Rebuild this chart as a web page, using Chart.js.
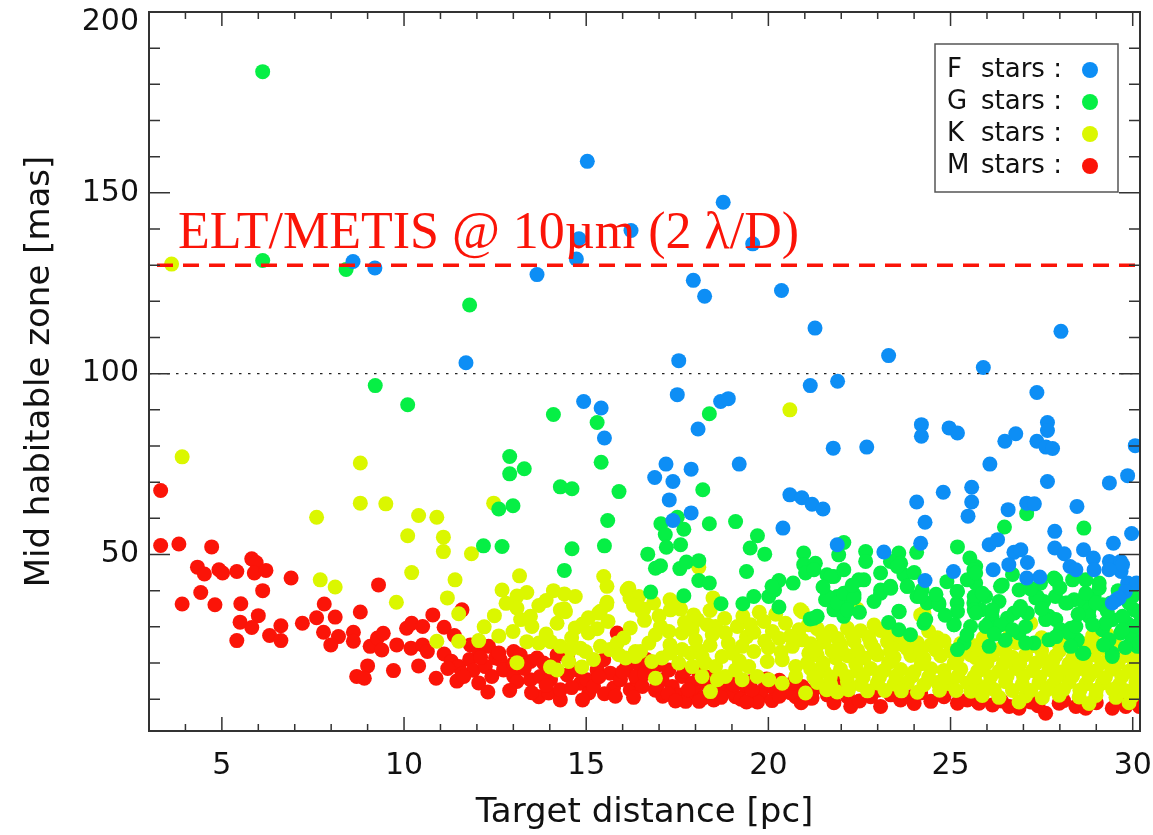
<!DOCTYPE html>
<html>
<head>
<meta charset="utf-8">
<script src="https://cdn.jsdelivr.net/npm/chart.js@4.4.1/dist/chart.umd.min.js"></script>
<style>
    html, body { margin: 0; padding: 0; background: #fff; }
    #chart { display: block; }
</style>
</head>
<body>
<canvas id="chart" width="1153" height="835"></canvas>
<script>
// distance [pc], mid habitable zone [mas]
const fStars = [
    [8.6,131],[9.2,129.2],[13.65,127.4],[11.7,103],[15.03,158.7],[18.76,147.4],[16.23,139.6],[14.8,137.3],
    [14.73,131.7],[19.57,135.9],[17.94,125.8],[18.25,121.4],[20.36,123],[21.28,112.6],[28.03,111.7],[17.54,103.6],
    [23.3,105],[25.9,101.7],[21.15,96.7],[21.9,97.9],[17.5,94.2],[14.93,92.3],[15.41,90.5],[15.5,82.2],
    [18.07,84.7],[18.69,92.3],[18.9,93.1],[17.19,75],[17.88,73.6],[16.88,71.3],[17.38,70.2],[17.28,65.1],
    [19.2,75],[17.88,61.5],[17.38,59.4],[20.4,57.3],[20.59,66.5],[20.92,65.7],[21.2,63.9],[21.5,62.6],
    [27.37,94.8],[24.2,85.9],[24.2,82.7],[24.96,85],[25.19,83.6],[27.66,86.5],[27.66,84.3],[26.49,81.3],
    [26.79,83.4],[27.37,81.3],[27.62,79.7],[27.8,79.3],[21.78,79.4],[22.7,79.7],[30.07,80.1],[26.08,75],
    [27.66,70.2],[29.36,69.8],[29.86,71.8],[24.07,64.5],[24.8,67.2],[25.58,68.6],[25.58,64.5],[25.48,60.6],
    [27.09,64.2],[27.3,64],[26.58,62.4],[28.47,63.3],[24.3,58.9],[27.86,56.4],[29.97,55.8],[24.18,53.1],
    [21.89,52.7],[26.06,52.7],[26.29,54.1],[29.47,53.1],[23.17,50.7],[26.74,50.6],[26.93,51.3],[26.6,47.2],
    [27.11,47.8],[27.86,51.8],[28.12,50.2],[28.65,51.3],[28.92,49],[28.94,45.8],[28.28,46.7],[28.44,45.8],
    [29.36,48.1],[29.67,48.1],[29.68,45.3],[29.86,42.1],[30.1,42.1],[29.8,39.8],[29.55,37.5],[25.08,45.3],
    [26.17,45.8],[24.3,42.8],[27.09,43.5],[27.45,43.8],[29.72,47.2],[29.35,45.8],[29.63,38],[29.44,36.6]
];

const gStars = [
    [6.12,183.5],[6.12,131.3],[8.41,128.8],[11.8,119],[9.21,96.7],[10.1,91.4],[14.1,88.7],[15.3,86.5],
    [18.38,88.9],[12.9,77.1],[12.9,72.3],[13.3,73.7],[15.41,75.5],[14.29,68.7],[14.61,68.2],[15.9,67.4],
    [18.2,67.9],[17.5,60.3],[17.05,58.5],[17.68,57],[17.17,55.5],[17.2,52],[17.59,52.7],[12.6,62.6],
    [12.99,63.5],[15.59,59.4],[18.38,58.5],[19.1,59.1],[19.7,55.2],[19.5,51.8],[19.9,50.1],[20.97,50.4],
    [20.97,47.2],[12.18,52.4],[12.69,52.2],[14.61,51.6],[15.5,52.4],[16.69,50.1],[16.9,46.2],[17.04,46.9],
    [14.4,45.6],[17.57,46.1],[17.75,47.9],[18.09,48.3],[18.09,42.8],[18.38,42.1],[19.4,45.3],[20.29,42.8],
    [20.68,42.1],[16.77,39.6],[17.68,38.6],[18.7,36.4],[19.3,36.4],[19.6,38.4],[20.01,38.4],[20.29,35.5],
    [20.17,40.2],[20.1,41.2],[21.15,32.2],
    [26.48,57.6],[28.66,57.3],[27.09,61.3],[22.07,53.3],[25.19,52.1],[25.53,49],[25.69,46.7],
    [21.29,47.6],[21.02,44.9],[21.61,44.4],[21.93,49.9],[22.07,45.8],[21.8,43.9],[22.67,50.8],[22.67,48.1],
    [23.08,44.9],[23.58,50.4],[23.35,48.1],[23.72,44.4],[23.63,47.6],[24.07,50.6],[23.81,41.2],[22.48,43],
    [21.57,37.5],[21.89,38.4],[22.16,36.6],[22.35,38.9],[21.8,34.7],[22.07,32.9],[21.25,32.4],[23.08,40.2],
    [23.35,41.2],[23.58,34.3],[23.58,29.2],[23.9,27.8],[24.08,38.4],[24.22,40.2],[24.36,36.6],[24.68,36.1],
    [24.27,31],[25.18,39.8],[25.18,36.6],[25.09,30.6],[25.64,45.8],[25.69,42.1],[25.64,36.6],[25.83,34.7],
    [25.96,38.4],[26.05,31],[26.14,32.9],[26.37,41.2],[26.33,37],[26.28,30.1],[26.56,32.4],[26.74,33.8],
    [26.88,28.3],[26.92,35.6],[27.11,33.8],[27.29,25.5],[27.38,38.4],[27.47,42.1],[27.56,37],[27.7,32.9],
    [27.89,32],[28.02,29.2],[28.21,36.6],[28.3,29.6],[28.48,26.4],[28.66,22.7],[28.39,37.5],[28.66,36.6],
    [28.8,34.7],[28.94,38.4],[29.17,36.1],[29.4,36.6],[29.44,32],[29.67,28.3],[29.85,31],[30.04,34.7],
    [29.95,25.5],[30.13,24.6],[29.44,22.7],[29.17,29.2],[28.71,43],[29.08,40.7],[27.84,43.5],[27.88,38.4],
    [21.25,45.8],[21.71,43.9],[21.62,38.4],[21.89,36.6],[22.07,39.3],[22.35,38],[22.62,43],[21.34,32.9],
    [22.17,34.7],[23.08,39.3],[23.36,40.7],[23.54,46.7],[23.82,41.2],[23.59,34.2],[24.18,38.4],[24.32,32],
    [24.68,36.6],[25.19,39.8],[25.19,34.2],[25.1,30.6],[25.46,43],[25.65,38.4],[25.65,34.7],[25.55,30.1],
    [25.37,25.5],[25.19,23.7],
    [25.69,44.9],[25.87,39.3],[25.69,33.8],[25.96,30.1],[26.15,34.7],[26.06,24.6],[26.42,41.6],[26.38,30.6],
    [26.88,40.2],[26.88,34.7],[26.7,29.2],[27.06,30.1],[27.06,25.5],[27.34,38],[27.61,32],[27.7,26.4],
    [27.89,43],[28.16,36.6],[28.25,28.3],[28.44,30.1],[28.35,43],[28.71,39.3],[28.8,32.9],[28.62,22.7],
    [28.99,36.6],[29.08,42.1],[29.26,31],[29.35,26.4],[29.44,21.8],[29.72,32.9],[29.9,36.6],[29.99,27.3],
    [30.18,33.8],[30.18,25.5],[29.72,29.2],
    [26.7,44.5],[27.2,40.5],[27.5,35],[28,40.8],[28.5,33.5],[28.9,30.6],[29.3,34.3],[29.6,40],
    [30,38.5],[30.1,30.2],[29.8,24.3],[29.2,25],[28.3,24.6],[27.9,27.3],[26.5,26.3],[26.2,28],
    [25.45,27.8],[24.85,33.2],[24.6,39],[24,45],[22.9,37],[22.5,34],[23.3,31.2],[21.5,41],
    [22.3,41.5],[24.9,42.5]
];

const kStars = [
    [3.62,130.3],[3.91,77],[8.8,75.3],[8.8,64.2],[9.5,64],[7.6,60.3],[10.4,60.8],[10.9,60.3],
    [10.1,55.2],[11.08,54.8],[11.08,50.8],[11.85,50.2],[7.7,43],[8.11,41],[10.21,45],[11.4,43],
    [11.19,38],[9.79,36.8],[11.5,33.6],[10.9,26],[11.5,26],[12.05,26.2],[20.59,90],[12.46,64.2],
    [13.17,44.1],[15.48,43.9],[15.57,41.2],[12.69,40.2],[13.37,39.5],[13.1,38.5],[14.1,40],[14.4,39.1],
    [14.7,38.4],[16.17,40.7],[16.2,38],[13.7,35.9],[13.1,35.2],[14.4,35],[15.57,36.8],[15.39,34.3],
    [15.06,32.5],[12.48,33.1],[16.58,34.9],[17.3,37.5],[17.59,34.9],[18.48,38],[18.09,46.5],[20.88,34.7],
    [22.44,34.9],[24.18,33.3],[27.2,31],[24.27,33.8],
    [14.29,34.7],[14.43,34.2],[13.47,32.9],[13.51,30.1],[14.2,31],[14.7,29.7],[15.34,33.8],[15.56,36.1],
    [15.06,28.3],[12.99,28.7],[13.37,25.9],[13.7,25.5],[14.02,25.9],[14.29,24.6],[14.57,23.7],[14.84,24.1],
    [14.98,23.2],[15.39,24.6],[15.65,23.7],[15.85,25.5],[16.21,29.7],[16.03,26.9],[16.08,21.4],[16.35,23.2],
    [13.1,20.1],[14.02,18.9],[14.2,18.1],[14.52,20.4],[14.88,18.9],[16.12,40.2],
    [16.44,38.4],[16.54,34.2],[16.85,36.6],[17.31,34.7],[17.54,35.6],[17.95,33.3],[18.05,32],[18.32,30.6],
    [18.55,30.1],[18.82,28.3],[18.46,27.8],[17.04,30.1],[17.27,28.7],[17.63,28.3],[17.91,29.2],[16.72,25.5],
    [16.49,23.2],[17.08,21.4],[17.63,23.7],[17.86,22.7],[18.05,23.7],[18.18,21.8],[17.54,20],[17.91,19],
    [18.27,20],[18.55,19],[18.73,21.8],[19.01,22.7],[19.28,24.6],[19.15,30.1],[19.51,30.6],[19.88,31.5],
    [20.11,28.7],[20.47,31],[20.84,29.2],[20.66,24.6],[20.93,26.4],[21.11,22.7],[19.6,23.2],[19.97,20.4],
    [20.38,20.9],[20.75,19],[21.07,20],[19.46,19],[19.1,18.1],[18.82,16.3],[19.28,15.4],[19.69,16.3],
    [20.01,15.4],[20.38,14.4],[20.75,16.3],[21.02,11.7],[16.9,15.8],[18.41,12.1],[18.18,16.3],[18.6,15.4],
    [20.93,34.2],[16.35,21.8],[18.9,25.5],[19.4,27.2],[19.9,26],[20.3,26.8],[18,26.3],[17.3,25],
    [16.9,27.8],[19.75,34],[20.2,33.5],[20.6,27.4],
    [13.9,28],[14.6,27],[15.3,29.5],[15.6,31.5],[16.6,31.8],[16.3,36],[17,33],[17.7,31.2],
    [18.4,34.5],[18.8,32.3],[19.3,33],[19.6,28.5],[20,24.2],[20.35,23],[19.2,20.6],[18.4,24.9],
    [16.8,20.4],[17.3,22.8],[15.9,22.3],[15.2,21],[14.9,30.8],[13.2,32],[13.9,37.3],[12.8,36.5],
    [12.2,30],[12.6,27.5],
    [21.34,29.5],[21.71,28.8],[22.17,29.6],[22.53,28.9],[23.08,29],[24.64,27],[21.9,26.8],[21.1,30.6],
    [23.4,28.3],[24.4,28.8],[22.9,30.5],
    [21.16,25.3],[21.53,25.8],[21.98,25.2],[22.35,26],[22.81,25.4],[23.27,25.9],[23.63,25.2],[24.09,25.6],
    [24.46,25],[24.82,26.1],[25.28,25.4],[25.65,24.8],
    [21.34,22.2],[21.85,21.4],[22.17,22],[22.63,21.4],[22.99,22.3],[23.45,21.6],[23.91,22.1],[24.27,21.3],
    [24.73,22],[25.19,21.5],[25.56,22.2],
    [21.16,18.4],[21.53,17.8],[21.98,18.3],[22.44,17.7],[22.81,18.5],[23.17,17.9],[23.63,18.2],[24,17.6],
    [24.46,18.4],[24.82,17.9],[25.28,18.3],[25.74,17.7],
    [21.34,14.6],[21.71,14.1],[22.17,14.8],[22.53,14],[22.99,14.5],[23.45,14.2],[23.82,14.7],[24.27,14],
    [24.64,14.6],[25,14.2],[25.46,14.5],
    [21.89,12],[22.72,12.3],[24.09,11.9],[25.56,12.2],
    [21.7,16.2],[22.6,16],[23.5,16.4],[24.4,16.1],[25.2,16.3],[21.5,20],[22.4,19.7],[23.3,20.1],
    [24.2,19.8],[25.1,20],[21.6,12.6],[23.2,12.4],[24.7,12.5],[22,23.8],[22.9,23.9],[23.8,24],
    [24.6,23.6],[25.4,23.5],
    [25.78,24.9],[26.42,24.3],[26.8,25.6],[27.25,24.8],[27.98,25.1],[28.35,24],[28.71,25.3],[29.12,24.2],
    [29.54,24.9],[30.09,24.4],
    [25.69,21.5],[26.15,22.2],[26.7,21.6],[27.06,22.3],[27.52,21.4],[27.89,22],[28.35,21.3],[28.9,22.2],
    [29.35,21.6],[29.81,22.1],[30.18,21.4],
    [25.87,18.3],[26.33,17.7],[26.79,18.5],[27.25,17.9],[27.7,18.2],[28.07,17.6],[28.53,18.4],[28.99,17.8],
    [29.44,18.3],[29.9,17.7],
    [25.69,14.6],[26.06,14.1],[26.51,14.8],[26.97,14.2],[27.43,14.6],[27.8,14],[28.25,14.7],[28.71,14.2],
    [29.17,14.5],[29.63,14],[30.09,14.6],
    [25.87,11],[26.33,10.5],[27.06,10.9],[27.52,10.4],[27.98,11.1],[28.53,10.6],[28.99,11],[29.54,10.5],
    [29.99,10.9],[26.88,9.2],[28.8,8.8],[29.9,9],
    [26.1,16.2],[27,16.5],[27.9,16.1],[28.8,16.4],[29.7,16.2],[26,20.1],[26.9,19.8],[27.8,20.2],
    [28.7,19.9],[29.6,20],[26.2,12.6],[27.2,12.4],[28.1,12.7],[29,12.5],[29.8,12.3],
    [21.5,27.4],[22.3,27.6],[22.75,27.2],[23.6,27.5],[25.9,26.9],[26.6,27.2],[27.5,27],[28.1,26.7],
    [28.9,27.5],[29.3,27.9],
    [21.3,23.6],[21.75,23.3],[22.45,23.5],[23.35,23.2],[24.2,23.5],[25,23.3],[25.9,23.3],[26.5,23.1],
    [27.5,23.4],[28,23.5],[28.5,23.1],[29,23.6],[29.8,23.3],
    [26.45,19.9],[27.35,20],[28.25,19.8],[29.15,20.1],[30.05,19.8],
    [21.25,16],[22.15,16.3],[23.05,16.1],[23.95,16.4],[24.85,16],[26.55,16.3],[27.45,16.1],[28.35,16.4],
    [29.25,16],[30.1,16.3],[25.65,16.2],
    [22.2,12.6],[23.65,12.3],[25.15,12.4],[25.9,12.6],[26.7,12.4],[27.65,12.6],[28.55,12.5],[29.45,12.7],
    [30.1,12.4]
];

const mStars = [
    [3.32,67.7],[3.32,52.5],[3.82,52.9],[4.72,52.1],[4.33,46.5],[4.52,44.6],[4.92,45.8],[5.02,44.9],
    [5.41,45.3],[5.82,48.8],[5.94,47.8],[5.89,44.9],[6.21,45.6],[6.9,43.5],[9.3,41.6],[4.42,39.5],
    [6.12,40],[3.91,36.3],[4.81,36.1],[5.52,36.4],[7.81,36.3],[5.5,31.3],[6,33.1],[5.82,29.8],
    [6.62,30.3],[6.31,27.6],[6.62,26.2],[5.41,26.2],[7.21,31],[7.6,32.5],[8.11,32.7],[8.8,34.1],
    [7.79,28.5],[8.2,27.3],[7.99,25],[8.61,28.5],[8.61,26],[9.07,24.6],[9.27,26.9],[9.43,28.2],
    [9.39,23.6],[9.8,25],[9,19.2],[8.7,16.3],[8.91,15.8],[9.71,17.9],[10.07,29.6],[10.21,31],
    [10.51,30.1],[10.79,33.3],[10.19,24.1],[10.51,25],[10.64,23.2],[10.4,19.2],[10.88,15.8],[11.1,29.9],
    [11.38,27.6],[11.59,34.7],[11.1,22.5],[11.3,20.5],[11.5,19],[11.6,17],[11.45,15],[11.8,21],
    [11.9,18],[12.05,14.5],[11.2,18.5],
    [11.82,25],[12.05,23.7],[12.32,24.6],[12.51,21.4],[12.64,20.9],[12.23,19],[11.64,16.3],[12.41,16.3],
    [12.73,18.1],[13.01,16.3],[13.1,14.9],[13.01,23.2],[13.47,20.4],[13.65,21.4],[13.83,20],[13.47,15.4],
    [13.74,16.3],[14.02,15.4],[13.7,10.7],[13.97,11.7],[14.29,9.8],[14.29,12.6],[14.48,16.7],[14.75,18.1],
    [14.84,14.4],[15.07,11.7],[15.02,15.4],[15.3,18.1],[15.48,20.9],[15.66,17.2],[15.75,13.1],[15.94,15.4],
    [16.12,19],[16.21,12.6],[16.39,15.4],[15.85,28.3],[16.49,19],[14.48,21.8],[14.2,22.3],[13.19,22.3],
    [15.5,11.5],[12.9,12.4],
    [16.35,16.3],[16.54,13.5],[16.81,18.1],[17.08,15.4],[17.27,18.1],[17.36,13.5],[17.54,11.2],[17.73,9.4],
    [17.63,16.3],[17.91,14.4],[18,11.7],[18.27,14.4],[18.09,17.2],[18.82,12.6],[19.1,10.7],[19.37,13.5],
    [19.64,11.7],[19.92,13.5],[20.2,12.1],[20.47,13.5],[20.75,10.7],[20.93,13.5],[21.2,10.3],[18.92,15.4],
    [18.64,11.7],[16.9,12.5],[17.1,10.8],[17.8,12.6],[18.2,10.3],[18.45,13.2],[18.5,9.8],[19,12],
    [19.25,10],[19.5,14.8],[19.8,11],[20.1,9.6],[20.3,15.2],[20.6,11.8],[20.9,9],[17,19.5],
    [16.65,21],[19.7,9.2],
    [12.3,12],[12.6,22.8],[13.3,18.5],[13.5,11.8],[13.9,13.8],[14.1,19.6],[14.6,13.2],[15.2,13.5],
    [15.35,16.2],[15.8,10.8],[16,17.6],[16.3,10.5],[16.6,17],[16.95,14],[17.25,11.5],[17.45,9.5],
    [17.7,17.8],[18.1,9.4],[18.35,16],[18.7,10.5],[19.05,14],[19.4,9.2],[19.55,12.6],[19.95,15.6],
    [20.3,10.8],[20.65,14.3],[21,11.8],[14.9,9.8],[13,19.8],[12.1,21.5],
    [21.3,13.1],[21.62,11.2],[21.89,14.4],[22.26,8],[22.17,10.7],[22.81,10.7],[23.08,8],[23.36,11.2],
    [23.63,9.8],[23.91,10.7],[24.18,11.7],[24.46,9.4],[24.82,10.7],[25.19,8.9],[25.46,9.8],[25.74,9.4],
    [21.16,10.3],[22.5,9.5],[23,12.5],[24,8.8],[24.9,12.6],[21.8,9],
    [25.78,8.9],[26.15,8.4],[26.61,8],[26.88,7.5],[27.61,6.1],[27.98,8.9],[28.44,8],[28.71,7.5],
    [29.44,7.5],[29.81,8],[30.18,8],[26.4,9.5],[27.2,9.2],[28.1,9.6],[29,9],[29.6,9.6],[27.4,8.2]
];

const classLetters = ['F', 'G', 'K', 'M'];
const classColors = ['#0d8ef5', '#06ef45', '#dbf700', '#fb1408'];
const xTicks = [5, 10, 15, 20, 25, 30];
const yTicks = [50, 100, 150, 200];
const xRange = [3, 30.2];
const yRange = [1.2, 200];
const metisLimit = 130;
const refLine = 100;
const metisLabel = 'ELT/METIS @ 10µm (2 λ/D)';

const axisFont = { family: 'DejaVu Sans', size: 30 };
const titleFont = { family: 'DejaVu Sans', size: 34 };

const series = [fStars, gStars, kStars, mStars];
const datasets = series.map((pts, i) => ({
    label: classLetters[i] + ' stars',
    data: pts.map(([x, y]) => ({ x, y })),
    backgroundColor: classColors[i],
    borderWidth: 0,
    pointRadius: 7.5,
    clip: 0
}));

const overlay = {
    id: 'overlay',
    afterDatasetsDraw(chart) {
        const { ctx, chartArea: a, scales: { x, y } } = chart;
        ctx.save();

        // dotted 100 mas line
        const yRef = y.getPixelForValue(refLine);
        ctx.strokeStyle = '#222';
        ctx.lineWidth = 1.3;
        ctx.setLineDash([2.5, 6.5]);
        ctx.beginPath();
        ctx.moveTo(a.left, yRef);
        ctx.lineTo(a.right, yRef);
        ctx.stroke();

        // METIS limit
        const yM = y.getPixelForValue(metisLimit);
        ctx.strokeStyle = classColors[3];
        ctx.lineWidth = 3.5;
        ctx.setLineDash([16, 10]);
        ctx.beginPath();
        ctx.moveTo(a.left + 8, yM);
        ctx.lineTo(a.right, yM);
        ctx.stroke();
        ctx.setLineDash([]);

        ctx.fillStyle = classColors[3];
        ctx.font = '52px "Liberation Serif"';
        ctx.textAlign = 'left';
        ctx.textBaseline = 'alphabetic';
        ctx.fillText(metisLabel, a.left + 29, yM - 17);

        // frame and inward ticks
        ctx.strokeStyle = '#333';
        ctx.lineWidth = 2;
        ctx.strokeRect(a.left, a.top, a.right - a.left, a.bottom - a.top);
        ctx.lineWidth = 1.5;
        ctx.beginPath();
        for (let v = Math.ceil(xRange[0]); v <= xRange[1]; v++) {
            const px = x.getPixelForValue(v);
            const len = v % 5 === 0 ? 14 : 7;
            ctx.moveTo(px, a.bottom); ctx.lineTo(px, a.bottom - len);
            ctx.moveTo(px, a.top); ctx.lineTo(px, a.top + len);
        }
        for (let v = 10; v <= yRange[1]; v += 10) {
            const py = y.getPixelForValue(v);
            const len = v % 50 === 0 ? 21 : 11;
            ctx.moveTo(a.left, py); ctx.lineTo(a.left + len, py);
            ctx.moveTo(a.right, py); ctx.lineTo(a.right - len, py);
        }
        ctx.stroke();

        // y tick labels (top one kept inside the canvas, as in the original)
        ctx.fillStyle = '#111';
        ctx.font = axisFont.size + 'px "' + axisFont.family + '"';
        ctx.textAlign = 'right';
        ctx.textBaseline = 'middle';
        yTicks.forEach(v => {
            const py = Math.max(y.getPixelForValue(v), a.top + 10);
            ctx.fillText(String(v), a.left - 10, py);
        });

        // legend
        const bx = a.right - 205, by = a.top + 32, bw = 183, bh = 148;
        ctx.fillStyle = '#fff';
        ctx.fillRect(bx, by, bw, bh);
        ctx.strokeStyle = '#555';
        ctx.lineWidth = 1.5;
        ctx.strokeRect(bx, by, bw, bh);
        ctx.font = '26px "DejaVu Sans"';
        ctx.textBaseline = 'middle';
        ctx.textAlign = 'left';
        classLetters.forEach((c, i) => {
            const ry = by + 26 + i * 32;
            ctx.fillStyle = '#111';
            ctx.fillText(c, bx + 12, ry);
            ctx.fillText('stars :', bx + 46, ry);
            ctx.fillStyle = classColors[i];
            ctx.beginPath();
            ctx.arc(bx + 155, ry, 8, 0, Math.PI * 2);
            ctx.fill();
        });
        ctx.restore();
    }
};

new Chart(document.getElementById('chart'), {
    type: 'scatter',
    data: { datasets },
    options: {
        responsive: false,
        animation: false,
        devicePixelRatio: 1,
        events: [],
        layout: { padding: { left: 0, right: 13, top: 12, bottom: 0 } },
        plugins: { legend: { display: false }, tooltip: { enabled: false } },
        scales: {
            x: {
                type: 'linear',
                min: xRange[0],
                max: xRange[1],
                afterBuildTicks: (s) => { s.ticks = xTicks.map(value => ({ value })); },
                afterFit: (s) => { s.height = 104; s.paddingLeft = 0; s.paddingRight = 0; },
                grid: { display: false, drawTicks: false },
                border: { display: false },
                ticks: { font: axisFont, color: '#111', padding: 17, maxRotation: 0 },
                title: {
                    display: true,
                    text: 'Target distance [pc]',
                    font: titleFont,
                    color: '#111',
                    padding: { top: 0, bottom: 1 }
                }
            },
            y: {
                type: 'linear',
                min: yRange[0],
                max: yRange[1],
                afterBuildTicks: (s) => { s.ticks = yTicks.map(value => ({ value })); },
                afterFit: (s) => { s.width = 149; s.paddingTop = 0; s.paddingBottom = 0; },
                grid: { display: false, drawTicks: false },
                border: { display: false },
                ticks: { display: false },
                title: {
                    display: true,
                    text: 'Mid habitable zone [mas]',
                    font: titleFont,
                    color: '#111',
                    padding: { top: 20, bottom: 0 }
                }
            }
        }
    },
    plugins: [overlay]
});
</script>
</body>
</html>
